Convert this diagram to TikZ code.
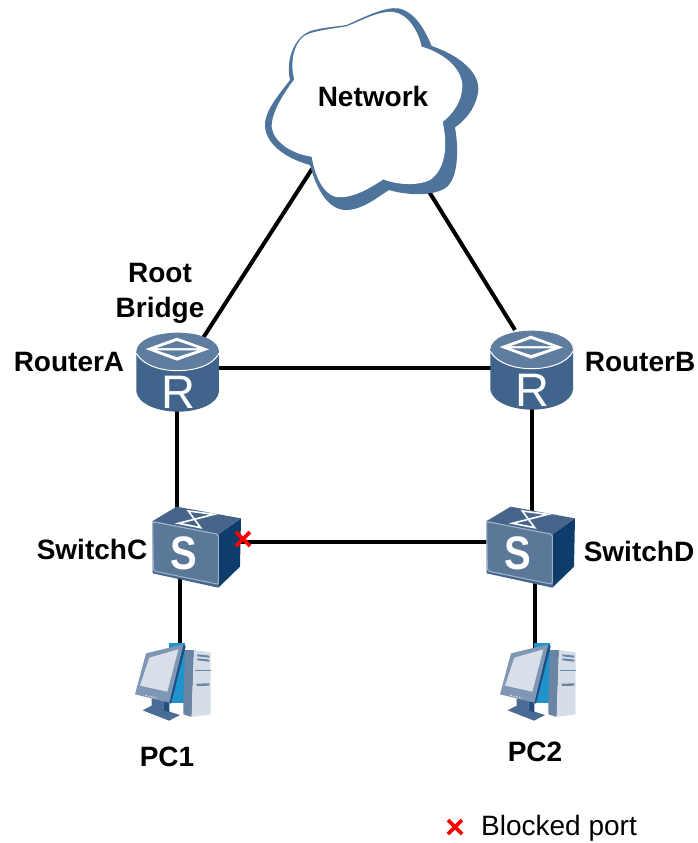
\documentclass[tikz,border=0pt]{standalone}
\usepackage{fontspec}
\setmainfont{Liberation Sans}
\definecolor{cloudblue}{HTML}{4E749C}
\definecolor{rbody}{HTML}{41648C}
\definecolor{rtop}{HTML}{5F7D9E}
\definecolor{swtop}{HTML}{47658A}
\definecolor{swfront}{HTML}{5B7899}
\definecolor{swedge}{HTML}{9DB3CB}
\definecolor{swside}{HTML}{0F3D6B}
\definecolor{pcframe}{HTML}{7F97B4}
\definecolor{pcscreen}{HTML}{D8DFE8}
\definecolor{pcdark}{HTML}{1F4E82}
\definecolor{pcblue}{HTML}{1F93CB}
\definecolor{pcside}{HTML}{6A84A4}
\definecolor{pcfront}{HTML}{D5DEE8}
\definecolor{pcstand}{HTML}{4A6B94}
\tikzset{
  x=1pt,y=-1pt,
  link/.style={draw=black,line width=4pt},
  lbl/.style={font=\fontsize{28}{35}\selectfont\bfseries,inner sep=0pt,align=center,text=black},
  lblplain/.style={font=\fontsize{28}{33}\selectfont,inner sep=0pt,anchor=west,text=black},
  device/.style={inner sep=0pt,minimum size=1pt},
  redx/.style={draw=red,line width=3.6pt},
  iconR/.style={font=\fontsize{47}{47}\selectfont,inner sep=0pt,text=white},
  iconS/.style={font=\fontsize{47}{47}\selectfont\bfseries,inner sep=0pt,text=white,xscale=.85},
  routericon/.pic={
    \begin{scope}[x=.3333pt,y=-.3333pt,shift={(-58.33pt,50pt)}]
      \fill[rbody] (50,95) -- (50,215) .. controls (55,250) and (110,275) .. (175,275)
         .. controls (240,275) and (295,250) .. (298,215) -- (298,95) -- cycle;
      \fill[rtop] (174,38) .. controls (105,38) and (50,62) .. (50,95)
         .. controls (50,128) and (105,150) .. (174,150)
         .. controls (243,150) and (298,128) .. (298,95)
         .. controls (298,62) and (243,38) .. (174,38) -- cycle;
      \draw[white,line width=1pt] (50,100) .. controls (70,135) and (120,152) .. (174,152)
         .. controls (228,152) and (280,135) .. (298,100);
      \fill[white] (78,87) -- (172,53) -- (268,88) -- (172,122) -- cycle;
      \fill[rtop] (112,84) -- (172,63) -- (234,84) -- cycle;
      \fill[rtop] (112,91) -- (234,91) -- (172,111) -- cycle;
      \node[iconR] at (177,216) {R};
    \end{scope}
  },
  switchicon/.pic={
    \begin{scope}[x=.3333pt,y=-.3333pt,shift={(-57pt,57pt)}]
      \fill[swside] (235,118) -- (303,70) -- (300,215) -- (235,278) -- cycle;
      \fill[swtop] (38,78) -- (110,35) -- (303,70) -- (235,118) -- cycle;
      \fill[swtop] (38,235) -- (235,278) -- (235,118) -- (38,78) -- cycle;
      \fill[swfront,draw=swedge,line width=1.1pt,rounded corners=2pt] (38,80) -- (235,118) -- (235,268) -- (40,228) -- cycle;
      \draw[white,line width=1.6pt] (115,85) -- (222,58) -- (145,48) -- (182,98) -- cycle;
      \node[iconS] at (130,176) {S};
    \end{scope}
  },
  pcicon/.pic={
    \begin{scope}[x=.3333pt,y=-.3333pt,shift={(-60pt,47pt)}]
      \fill[pcblue] (148,25) -- (196,25) -- (196,205) -- (148,205) -- cycle;
      \fill[pcside] (195,45) -- (222,45) -- (215,246) -- (190,238) -- (190,205) -- cycle;
      \fill[pcfront] (222,45) -- (272,52) -- (272,238) -- (215,246) -- cycle;
      \fill[pcside] (232,58) -- (268,62) -- (268,68) -- (232,64) -- cycle
                    (232,70) -- (268,74) -- (268,80) -- (232,76) -- cycle
                    (230,146) -- (268,145) -- (268,152) -- (230,153) -- cycle;
      \draw[pcside,line width=.5pt] (224,105) -- (272,105);
      \fill[pcstand] (95,190) -- (130,198) -- (130,224) -- (180,240) -- (147,257) -- (68,226) -- (95,212) -- cycle;
      \fill[pcdark] (130,198) -- (148,200) -- (148,232) -- (130,226) -- cycle;
      \fill[pcdark] (190,28) -- (197,34) -- (153,206) -- (146,203) -- cycle;
      \fill[pcframe] (78,55) -- (190,28) -- (148,203) -- (45,178) -- cycle;
      \fill[pcscreen] (88,68) -- (175,43) -- (142,170) -- (60,152) -- cycle;
      \draw[pcscreen,line width=1pt,dash pattern=on 1.5pt off 1.5pt] (76,181) -- (112,189);
    \end{scope}
  },
  crossmark/.pic={
    \draw[redx] (-7,-7) -- (7,7) (-7,7) -- (7,-7);
  },
}
\begin{document}
\begin{tikzpicture}
\useasboundingbox (0,0) rectangle (697,843);
% device nodes
\node[device] (ra) at (178,370) {};
\node[device] (rb) at (532,368) {};
\node[device] (sc) at (197,552) {};
\node[device] (sd) at (531,552) {};
\node[device] (pc1) at (180,682) {};
\node[device] (pc2) at (545,682) {};
% connector ports
\coordinate (net-a) at (312,169);
\coordinate (ra-n) at (203,338);
\coordinate (net-b) at (428,190);
\coordinate (rb-n) at (515,330);
\coordinate (ra-e) at (205,368);
\coordinate (rb-w) at (505,368);
\coordinate (ra-s) at (177,400);
\coordinate (sc-n) at (177,520);
\coordinate (rb-s) at (532,400);
\coordinate (sd-n) at (532,520);
\coordinate (sc-e) at (235,542);
\coordinate (sd-w) at (495,542);
\coordinate (sc-s) at (180,575);
\coordinate (pc1-n) at (180,650);
\coordinate (sd-s) at (535,575);
\coordinate (pc2-n) at (535,650);
% connectors
\draw[link] (net-a) -- (ra-n);
\draw[link] (net-b) -- (rb-n);
\draw[link] (ra-e) -- (rb-w);
\draw[link] (ra-s) -- (sc-n);
\draw[link] (rb-s) -- (sd-n);
\draw[link] (sc-e) -- (sd-w);
\draw[link] (sc-s) -- (pc1-n);
\draw[link] (sd-s) -- (pc2-n);
% cloud
\begin{scope}[x=.3333pt,y=-.3333pt,shift={(255pt,0pt)}]
  \fill[cloudblue] (275,75) .. controls (330,50) and (390,20) .. (430,25)
    .. controls (480,35) and (510,90) .. (530,138)
    .. controls (610,165) and (672,215) .. (670,268)
    .. controls (668,310) and (640,355) .. (600,382)
    .. controls (612,450) and (610,540) .. (570,565)
    .. controls (530,590) and (450,585) .. (402,570)
    .. controls (370,590) and (320,632) .. (270,630)
    .. controls (220,628) and (185,570) .. (165,495)
    .. controls (90,475) and (30,430) .. (30,375)
    .. controls (30,330) and (75,280) .. (105,240)
    .. controls (90,170) and (125,105) .. (170,92)
    .. controls (205,82) and (245,80) .. (275,75) -- cycle;
  \fill[white] (275,79) .. controls (320,62) and (370,32) .. (415,36)
    .. controls (460,42) and (490,95) .. (500,140)
    .. controls (570,160) and (625,210) .. (622,262)
    .. controls (620,305) and (595,340) .. (563,366)
    .. controls (580,440) and (570,510) .. (525,540)
    .. controls (490,558) and (425,555) .. (385,538)
    .. controls (345,565) and (285,600) .. (240,590)
    .. controls (205,580) and (180,530) .. (170,470)
    .. controls (110,462) and (55,425) .. (50,380)
    .. controls (50,335) and (90,275) .. (118,238)
    .. controls (100,175) and (125,110) .. (165,100)
    .. controls (195,90) and (240,85) .. (275,79) -- cycle;
\end{scope}
\node[lbl] (network) at (373,96) {Network};
% icons
\pic at (178,370) {routericon};
\pic at (532,368) {routericon};
\pic at (197,552) {switchicon};
\pic at (531,552) {switchicon};
\pic at (180,682) {pcicon};
\pic at (545,682) {pcicon};
% labels
\node[lbl] (root) at (160,293) {Root\\Bridge};
\node[lbl] (rlA) at (69,362) {RouterA};
\node[lbl] (rlB) at (640,362) {RouterB};
\node[lbl] (slC) at (92,549) {SwitchC};
\node[lbl] (slD) at (639,551) {SwitchD};
\node[lbl] (pl1) at (167,757) {PC1};
\node[lbl] (pl2) at (535,752) {PC2};
\pic at (243,539) {crossmark};
\pic at (455,827) {crossmark};
\node[lblplain] (legend) at (481,828) {Blocked port};
\end{tikzpicture}
\end{document}
